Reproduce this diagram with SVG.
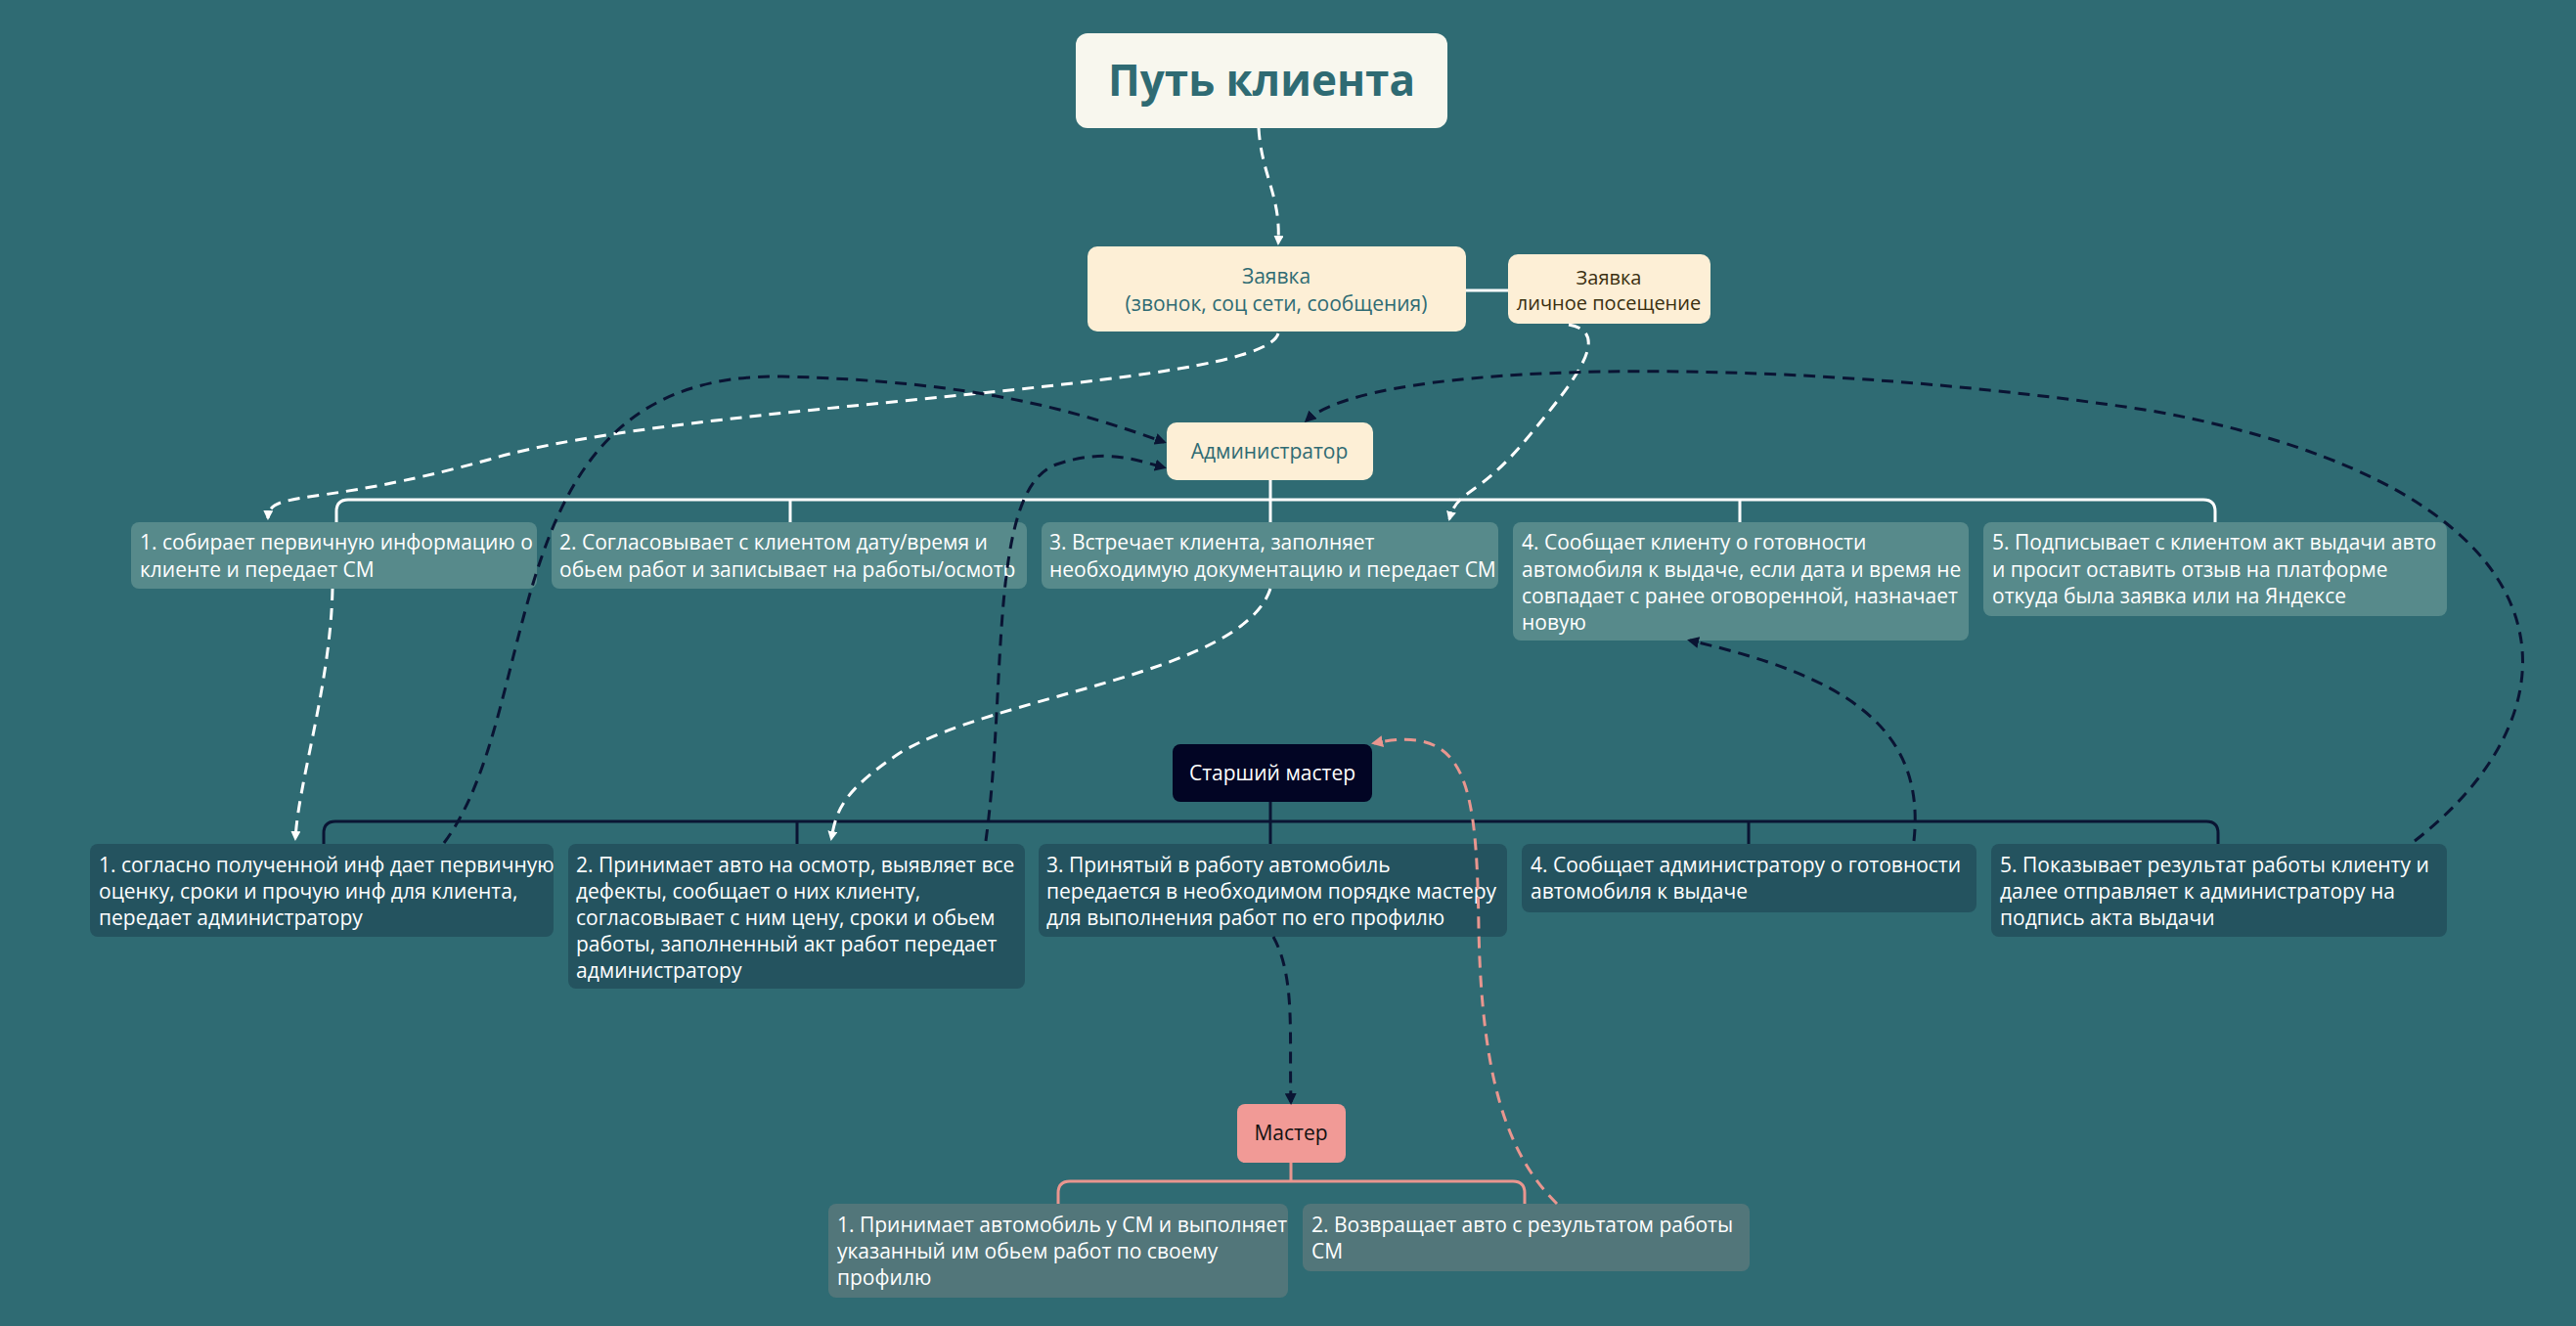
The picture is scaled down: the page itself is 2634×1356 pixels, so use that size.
<svg xmlns="http://www.w3.org/2000/svg" width="2634" height="1356" viewBox="0 0 2634 1356">
<style>
text{font-family:"Open Sans","Liberation Sans",sans-serif}
.t{font-size:21px;fill:#fff}
.c{fill:none;stroke-width:3;stroke-dasharray:12 8}
.w{stroke:#fff}.n{stroke:#0a1433}.p{stroke:#e9968f}
.tr{fill:none;stroke-width:3}
</style>
<defs>
<marker id="aw" markerWidth="10" markerHeight="10" refX="8" refY="5" orient="auto" markerUnits="userSpaceOnUse" viewBox="0 0 10 10"><path d="M0,0 L10,5 L0,10 z" fill="#fff"/></marker>
<marker id="an" markerWidth="12" markerHeight="12" refX="9" refY="6" orient="auto" markerUnits="userSpaceOnUse" viewBox="0 0 12 12"><path d="M0,0 L12,6 L0,12 z" fill="#0a1433"/></marker>
<marker id="ap" markerWidth="12" markerHeight="12" refX="9" refY="6" orient="auto" markerUnits="userSpaceOnUse" viewBox="0 0 12 12"><path d="M0,0 L12,6 L0,12 z" fill="#e9968f"/></marker>
</defs>
<rect width="2634" height="1356" fill="#2f6b73"/>
<g id="trees">
<path class="tr" stroke="#fff" d="M1299,491 V511 M356,511 H2253 M344,534 V523 Q344,511 356,511 M808,534 V511 M1299,511 V534 M1779,534 V511 M2265,534 V523 Q2265,511 2253,511"/>
<path class="tr" stroke="#0a1433" d="M1299,820 V840 M343,840 H2256 M331,863 V852 Q331,840 343,840 M815,863 V840 M1299,840 V863 M1788,863 V840 M2268,863 V852 Q2268,840 2256,840"/>
<path class="tr" stroke="#e9968f" d="M1320,1189 V1208 M1094,1208 H1547 M1082,1231 V1220 Q1082,1208 1094,1208 M1559,1231 V1220 Q1559,1208 1547,1208"/>
<line x1="1499" y1="297" x2="1542" y2="297" stroke="#fff" stroke-width="3"/>
</g>
<g id="title"><rect x="1100" y="34" width="380" height="97" rx="12" fill="#f8f7ee"/><text x="1290" y="98" text-anchor="middle" font-size="44" font-weight="bold" fill="#2f6b73">Путь клиента</text></g>
<g id="z1"><rect x="1112" y="252" width="387" height="87" rx="10" fill="#fdefd6"/><text x="1305" y="290" text-anchor="middle" font-size="21" fill="#2f6b73">Заявка</text><text x="1305" y="318" text-anchor="middle" font-size="21" fill="#2f6b73">(звонок, соц сети, сообщения)</text></g>
<g id="z2"><rect x="1542" y="260" width="207" height="71" rx="10" fill="#fdefd6"/><text x="1645" y="291" text-anchor="middle" font-size="20" fill="#3a2f10">Заявка</text><text x="1645" y="317" text-anchor="middle" font-size="20" fill="#3a2f10">личное посещение</text></g>
<g id="admin"><rect x="1193" y="432" width="211" height="59" rx="10" fill="#fdefd6"/><text x="1298" y="469" text-anchor="middle" font-size="21" fill="#2f6b73">Администратор</text></g>
<g id="a1"><rect x="134" y="534" width="415" height="68" rx="8" fill="#578a8b"/><text class="t" x="143" y="562">1.  собирает первичную информацию о</text><text class="t" x="143" y="590">клиенте и передает СМ</text></g>
<g id="a2"><rect x="564" y="534" width="486" height="68" rx="8" fill="#578a8b"/><text class="t" x="572" y="562">2. Согласовывает с клиентом дату/время и</text><text class="t" x="572" y="590">обьем работ и записывает на работы/осмотр</text></g>
<g id="a3"><rect x="1065" y="534" width="467" height="68" rx="8" fill="#578a8b"/><text class="t" x="1073" y="562">3. Встречает клиента, заполняет</text><text class="t" x="1073" y="590">необходимую документацию и передает СМ</text></g>
<g id="a4"><rect x="1547" y="534" width="466" height="121" rx="8" fill="#578a8b"/><text class="t" x="1556" y="562">4. Сообщает клиенту о готовности</text><text class="t" x="1556" y="590">автомобиля к выдаче, если дата и время не</text><text class="t" x="1556" y="617">совпадает с ранее оговоренной, назначает</text><text class="t" x="1556" y="644">новую</text></g>
<g id="a5"><rect x="2028" y="534" width="474" height="96" rx="8" fill="#578a8b"/><text class="t" x="2037" y="562">5. Подписывает с клиентом акт выдачи авто</text><text class="t" x="2037" y="590">и просит оставить отзыв на платформе</text><text class="t" x="2037" y="617">откуда была заявка или на Яндексе</text></g>
<g id="senior"><rect x="1199" y="761" width="204" height="59" rx="8" fill="#020524"/><text x="1301" y="798" text-anchor="middle" font-size="21" fill="#fff">Старший мастер</text></g>
<g id="s1"><rect x="92" y="863" width="474" height="95" rx="8" fill="#24535f"/><text class="t" x="101" y="892">1. согласно полученной инф дает первичную</text><text class="t" x="101" y="919">оценку, сроки и прочую инф для клиента,</text><text class="t" x="101" y="946">передает администратору</text></g>
<g id="s2"><rect x="581" y="863" width="467" height="148" rx="8" fill="#24535f"/><text class="t" x="589" y="892">2. Принимает авто на осмотр, выявляет все</text><text class="t" x="589" y="919">дефекты, сообщает о них клиенту,</text><text class="t" x="589" y="946">согласовывает с ним цену, сроки и обьем</text><text class="t" x="589" y="973">работы, заполненный акт работ передает</text><text class="t" x="589" y="1000">администратору</text></g>
<g id="s3"><rect x="1062" y="863" width="479" height="95" rx="8" fill="#24535f"/><text class="t" x="1070" y="892">3. Принятый в работу автомобиль</text><text class="t" x="1070" y="919">передается в необходимом порядке мастеру</text><text class="t" x="1070" y="946">для выполнения работ по его профилю</text></g>
<g id="s4"><rect x="1556" y="863" width="465" height="70" rx="8" fill="#24535f"/><text class="t" x="1565" y="892">4. Сообщает администратору о готовности</text><text class="t" x="1565" y="919">автомобиля к выдаче</text></g>
<g id="s5"><rect x="2036" y="863" width="466" height="95" rx="8" fill="#24535f"/><text class="t" x="2045" y="892">5. Показывает результат работы клиенту и</text><text class="t" x="2045" y="919">далее отправляет к администратору на</text><text class="t" x="2045" y="946">подпись акта выдачи</text></g>
<g id="master"><rect x="1265" y="1129" width="111" height="60" rx="8" fill="#f19a96"/><text x="1320" y="1166" text-anchor="middle" font-size="21" fill="#111">Мастер</text></g>
<g id="m1"><rect x="847" y="1231" width="470" height="96" rx="8" fill="#52767a"/><text class="t" x="856" y="1260">1. Принимает автомобиль у СМ и выполняет</text><text class="t" x="856" y="1287">указанный им обьем работ по своему</text><text class="t" x="856" y="1314">профилю</text></g>
<g id="m2"><rect x="1332" y="1231" width="457" height="69" rx="8" fill="#52767a"/><text class="t" x="1341" y="1260">2. Возвращает авто с результатом работы</text><text class="t" x="1341" y="1287">СМ</text></g>
<g id="connectors">
<path class="c w" marker-end="url(#aw)" d="M1287,131 C1290,180 1310,200 1307,249"/>
<path class="c w" marker-end="url(#aw)" d="M1307,341 C1290,400 700,410 500,470 C320,520 275,500 274,530"/>
<path class="c w" marker-end="url(#aw)" d="M1604,332 C1650,340 1610,390 1560,450 C1510,510 1490,500 1482,531"/>
<path class="c w" marker-end="url(#aw)" d="M340,602 C338,700 305,800 302,858"/>
<path class="c w" marker-end="url(#aw)" d="M1299,602 C1270,690 1020,710 920,770 C860,810 855,830 850,858"/>
<path class="c n" marker-end="url(#an)" d="M454,862 C560,720 500,380 800,385 C1000,390 1100,420 1190,452"/>
<path class="c n" marker-end="url(#an)" d="M1008,860 C1030,700 1010,500 1080,475 C1130,458 1160,470 1190,478"/>
<path class="c n" marker-end="url(#an)" d="M1957,860 C1970,740 1880,690 1728,655"/>
<path class="c n" marker-end="url(#an)" d="M2469,860 C2650,720 2640,500 2200,420 C1800,360 1400,370 1336,430"/>
<path class="c n" marker-end="url(#an)" d="M1302,958 C1325,1000 1318,1060 1320,1127"/>
<path class="c p" marker-end="url(#ap)" d="M1592,1231 C1540,1180 1515,1100 1512,950 C1510,800 1500,740 1405,760"/>
</g>
</svg>
